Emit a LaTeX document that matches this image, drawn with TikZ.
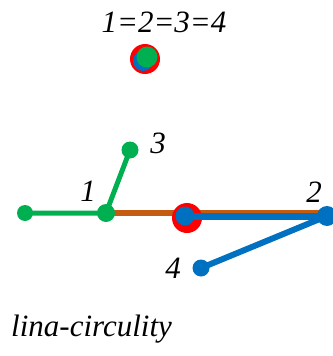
\documentclass[tikz,border=0pt]{standalone}
\usepackage{fontspec}
\setmainfont{Liberation Serif}
\usetikzlibrary{positioning}
\definecolor{lngreen}{RGB}{0,176,80}
\definecolor{lnblue}{RGB}{0,112,192}
\definecolor{lnred}{RGB}{255,0,0}
\definecolor{lnbrown}{RGB}{197,90,17}
\tikzset{
  dot/.style={circle,fill=#1,inner sep=0pt,minimum size=17pt},
  lbl/.style={font=\itshape\fontsize{31}{31}\selectfont,inner sep=0pt},
}
\begin{document}
\begin{tikzpicture}[x=1pt,y=-1pt]
  \useasboundingbox (0,0) rectangle (332,356);
  % merged point
  \node[lbl,anchor=base] (eq) at (164,32) {1=2=3=4};
  \node[dot=lnred,minimum size=30pt] (mred) at (145,59) {};
  \node[dot=lnblue,minimum size=20pt] (mblue) at (143,61) {};
  \node[dot=lngreen,minimum size=21pt] (mgreen) at (147,57) {};
  % points
  \coordinate (p0) at (25,213);
  \coordinate (p1) at (106,213);
  \coordinate (p3) at (130,150);
  \coordinate (pm) at (185,216);
  \coordinate (p2) at (327,216);
  \coordinate (p4) at (201,268);
  \draw[lnbrown,line width=6pt] (p1) -- (p1 -| p2);
  \draw[lngreen,line width=5pt] (p0) -- (p1) -- (p3);
  \node[dot=lnred,minimum size=30pt] (ring) at (187,218) {};
  \draw[lnblue,line width=7pt] (pm) -- (p2);
  \draw[lnblue,line width=6pt] (p2) -- (p4);
  \node[dot=lngreen,minimum size=16pt] (n0) at (p0) {};
  \node[dot=lngreen,minimum size=18pt] (n1) at (p1) {};
  \node[dot=lngreen] (n3) at (p3) {};
  \node[dot=lnblue,minimum size=19pt] (nm) at (pm) {};
  \node[dot=lnblue,minimum size=20pt] (n2) at (p2) {};
  \node[dot=lnblue] (n4) at (p4) {};
  % labels
  \node[lbl,anchor=base] (l1) at (88,201) {1};
  \node[lbl,anchor=base] (l3) at (158,153) {3};
  \node[lbl,anchor=base] (l2) at (314,202) {2};
  \node[lbl,anchor=base] (l4) at (173,278) {4};
  \node[lbl,anchor=base west] (cap) at (11,336) {lina-circulity};
\end{tikzpicture}
\end{document}
